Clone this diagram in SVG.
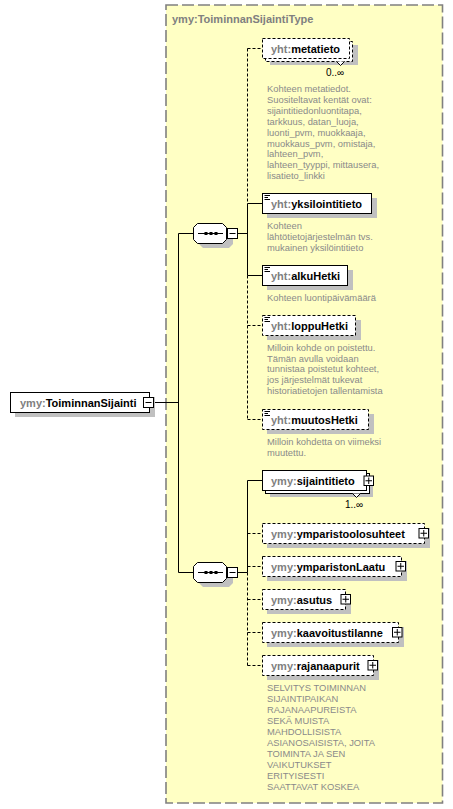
<svg xmlns="http://www.w3.org/2000/svg" width="453" height="809" viewBox="0 0 453 809">
<style>
.t{font-family:"Liberation Sans",Arial,sans-serif;font-size:11px;font-weight:bold;fill:#000}
.p{fill:#808080}
.d{font-family:"Liberation Sans",Arial,sans-serif;font-size:9.4px;fill:#8a8a8a}
.m{font-family:"Liberation Sans",Arial,sans-serif;font-size:10px;fill:#000}
.b{fill:#fff;stroke:#000;stroke-width:1}
.o{stroke-dasharray:3 2}
.sh{fill:#c0c0c0}
.c{stroke:#000;stroke-width:1;fill:none}
.cd{stroke-dasharray:3 2}
.ic{stroke:#000;stroke-width:1}
</style>
<rect x="166" y="5" width="276.5" height="798" fill="#ffffc4" stroke="#808080" stroke-width="1.6" stroke-dasharray="12 4"/>
<text x="172" y="23" class="t p">ymy:ToiminnanSijaintiType</text>

<g id="connectors">
<path class="c" d="M154,402.5H178.5M178.5,233.5V572.5M178.5,233.5H193M178.5,572.5H193M238,233.5H247.5M238,572.5H247.5"/>
<path class="c cd" d="M247.5,48.5V203.5M247.5,275.5V419.5"/>
<path class="c" d="M247.5,203.5V275.5M247.5,203.5H262M247.5,275.5H262"/>
<path class="c cd" d="M247.5,48.5H262M247.5,325.5H262M247.5,419.5H262"/>
<path class="c" d="M247.5,480.5V572.5M247.5,480.5H262"/>
<path class="c cd" d="M247.5,572.5V665.5M247.5,533.5H262M247.5,566.5H262M247.5,599.5H262M247.5,632.5H262M247.5,665.5H262"/>
</g>

<g id="root">
<rect class="sh" x="15" y="397" width="140" height="20"/>
<rect class="b" x="10.5" y="392.5" width="139" height="20"/>
<text x="20" y="406.5" class="t"><tspan class="p">ymy:</tspan>ToiminnanSijainti</text>
<rect class="b" x="143.5" y="397.5" width="10" height="10"/>
<path class="ic" d="M145.5,402.5H151.5"/>
</g>

<g id="seq1">
<path class="sh" d="M203,228H229L233,232V244L229,248H203L199,244V232Z"/>
<path class="b" d="M197.5,223.5H222.5L226.5,227.5V239.5L222.5,243.5H197.5L193.5,239.5V227.5Z"/>
<path class="ic" d="M198,233.5H223"/>
<rect x="204.5" y="232" width="3" height="3"/><rect x="209.5" y="232" width="3" height="3"/><rect x="214.5" y="232" width="3" height="3"/>
<rect class="b" x="227.5" y="228.5" width="10" height="10"/>
<path class="ic" d="M229.5,233.5H235.5"/>
</g>

<g id="seq2">
<path class="sh" d="M203,567H229L233,571V583L229,587H203L199,583V571Z"/>
<path class="b" d="M197.5,562.5H222.5L226.5,566.5V578.5L222.5,582.5H197.5L193.5,578.5V566.5Z"/>
<path class="ic" d="M198,572.5H223"/>
<rect x="204.5" y="571" width="3" height="3"/><rect x="209.5" y="571" width="3" height="3"/><rect x="214.5" y="571" width="3" height="3"/>
<rect class="b" x="227.5" y="567.5" width="10" height="10"/>
<path class="ic" d="M229.5,572.5H235.5"/>
</g>

<g id="metatieto">
<rect class="sh" x="270" y="45" width="88" height="20"/>
<rect class="b o" x="265.5" y="41.5" width="87" height="20"/>
<rect class="b o" x="262.5" y="38.5" width="87" height="20"/>
<path class="b" d="M336.5,61.5L340.5,65.5L344.5,61.5"/>
<text x="271" y="52.5" class="t"><tspan class="p">yht:</tspan>metatieto</text>
<text x="326" y="75.5" class="m">0..∞</text>
<text class="d" x="267" y="92"><tspan x="267">Kohteen metatiedot.</tspan><tspan x="267" dy="10.9">Suositeltavat kentät ovat:</tspan><tspan x="267" dy="10.9">sijaintitiedonluontitapa,</tspan><tspan x="267" dy="10.9">tarkkuus, datan_luoja,</tspan><tspan x="267" dy="10.9">luonti_pvm, muokkaaja,</tspan><tspan x="267" dy="10.9">muokkaus_pvm, omistaja,</tspan><tspan x="267" dy="10.9">lahteen_pvm,</tspan><tspan x="267" dy="10.9">lahteen_tyyppi, mittausera,</tspan><tspan x="267" dy="10.9">lisatieto_linkki</tspan></text>
</g>

<g id="yksilointitieto">
<rect class="sh" x="267" y="198" width="110" height="20"/>
<rect class="b" x="262.5" y="193.5" width="109" height="20"/>
<path class="ic" d="M264.5,195.5H270M264.5,197.5H268M264.5,199.5H270"/>
<text x="271" y="207.5" class="t"><tspan class="p">yht:</tspan>yksilointitieto</text>
<text class="d" x="267" y="229.2"><tspan x="267">Kohteen</tspan><tspan x="267" dy="10.7">lähtötietojärjestelmän  tvs.</tspan><tspan x="267" dy="10.7">mukainen yksilöintitieto</tspan></text>
</g>

<g id="alkuHetki">
<rect class="sh" x="267" y="270" width="86" height="20"/>
<rect class="b" x="262.5" y="265.5" width="85" height="20"/>
<path class="ic" d="M264.5,267.5H270M264.5,269.5H268M264.5,271.5H270"/>
<text x="271" y="279.5" class="t"><tspan class="p">yht:</tspan>alkuHetki</text>
<text class="d" x="267" y="301.2">Kohteen luontipäivämäärä</text>
</g>

<g id="loppuHetki">
<rect class="sh" x="267" y="320" width="94" height="20"/>
<rect class="b o" x="262.5" y="315.5" width="93" height="20"/>
<path class="ic" d="M264.5,317.5H270M264.5,319.5H268M264.5,321.5H270"/>
<text x="271" y="329.5" class="t"><tspan class="p">yht:</tspan>loppuHetki</text>
<text class="d" x="267" y="350.8"><tspan x="267">Milloin kohde on poistettu.</tspan><tspan x="267" dy="10.7">Tämän avulla voidaan</tspan><tspan x="267" dy="10.7">tunnistaa poistetut kohteet,</tspan><tspan x="267" dy="10.7">jos järjestelmät tukevat</tspan><tspan x="267" dy="10.7">historiatietojen tallentamista</tspan></text>
</g>

<g id="muutosHetki">
<rect class="sh" x="267" y="414" width="107" height="20"/>
<rect class="b o" x="262.5" y="409.5" width="106" height="20"/>
<path class="ic" d="M264.5,411.5H270M264.5,413.5H268M264.5,415.5H270"/>
<text x="271" y="423.5" class="t"><tspan class="p">yht:</tspan>muutosHetki</text>
<text class="d" x="267" y="445.2"><tspan x="267">Milloin kohdetta on viimeksi</tspan><tspan x="267" dy="10.7">muutettu.</tspan></text>
</g>

<g id="sijaintitieto">
<rect class="sh" x="270" y="477" width="103" height="20"/>
<rect class="b" x="265.5" y="473.5" width="104" height="20"/>
<rect class="b" x="262.5" y="470.5" width="104" height="20"/>
<path class="b" d="M352.5,493.5L356.5,497.5L360.5,493.5"/>
<text x="271" y="484.5" class="t"><tspan class="p">ymy:</tspan>sijaintitieto</text>
<rect class="b" x="364" y="476" width="9.5" height="9.5"/>
<path class="ic" d="M365.5,480.75H372M368.75,477.5V484"/>
<text x="345" y="507.5" class="m">1..∞</text>
</g>

<g id="ymparistoolosuhteet">
<rect class="sh" x="267" y="528" width="163" height="20"/>
<rect class="b o" x="262.5" y="523.5" width="162" height="20"/>
<text x="271" y="537.5" class="t"><tspan class="p">ymy:</tspan>ymparistoolosuhteet</text>
<rect class="b" x="419" y="528.5" width="9.5" height="9.5"/>
<path class="ic" d="M420.5,533.25H427M423.75,530V536.5"/>
</g>

<g id="ymparistonLaatu">
<rect class="sh" x="267" y="561" width="140" height="20"/>
<rect class="b o" x="262.5" y="556.5" width="139" height="20"/>
<text x="271" y="570.5" class="t"><tspan class="p">ymy:</tspan>ymparistonLaatu</text>
<rect class="b" x="396" y="561.5" width="9.5" height="9.5"/>
<path class="ic" d="M397.5,566.25H404M400.75,563V569.5"/>
</g>

<g id="asutus">
<rect class="sh" x="267" y="594" width="84" height="20"/>
<rect class="b o" x="262.5" y="589.5" width="83" height="20"/>
<text x="271" y="603.5" class="t"><tspan class="p">ymy:</tspan>asutus</text>
<rect class="b" x="341" y="594.5" width="9.5" height="9.5"/>
<path class="ic" d="M342.5,599.25H349M345.75,596V602.5"/>
</g>

<g id="kaavoitustilanne">
<rect class="sh" x="267" y="627" width="137" height="20"/>
<rect class="b o" x="262.5" y="622.5" width="136" height="20"/>
<text x="271" y="636.5" class="t"><tspan class="p">ymy:</tspan>kaavoitustilanne</text>
<rect class="b" x="392.5" y="627.5" width="9.5" height="9.5"/>
<path class="ic" d="M394,632.25H400.5M397.25,629V635.5"/>
</g>

<g id="rajanaapurit">
<rect class="sh" x="267" y="660" width="112" height="20"/>
<rect class="b o" x="262.5" y="655.5" width="111" height="20"/>
<text x="271" y="669.5" class="t"><tspan class="p">ymy:</tspan>rajanaapurit</text>
<rect class="b" x="368" y="660.5" width="9.5" height="9.5"/>
<path class="ic" d="M369.5,665.25H376M372.75,662V668.5"/>
<text class="d" x="267" y="690.8"><tspan x="267">SELVITYS TOIMINNAN</tspan><tspan x="267" dy="11.05">SIJAINTIPAIKAN</tspan><tspan x="267" dy="11.05">RAJANAAPUREISTA</tspan><tspan x="267" dy="11.05">SEKÄ MUISTA</tspan><tspan x="267" dy="11.05">MAHDOLLISISTA</tspan><tspan x="267" dy="11.05">ASIANOSAISISTA, JOITA</tspan><tspan x="267" dy="11.05">TOIMINTA JA SEN</tspan><tspan x="267" dy="11.05">VAIKUTUKSET</tspan><tspan x="267" dy="11.05">ERITYISESTI</tspan><tspan x="267" dy="11.05">SAATTAVAT KOSKEA</tspan></text>
</g>
</svg>
